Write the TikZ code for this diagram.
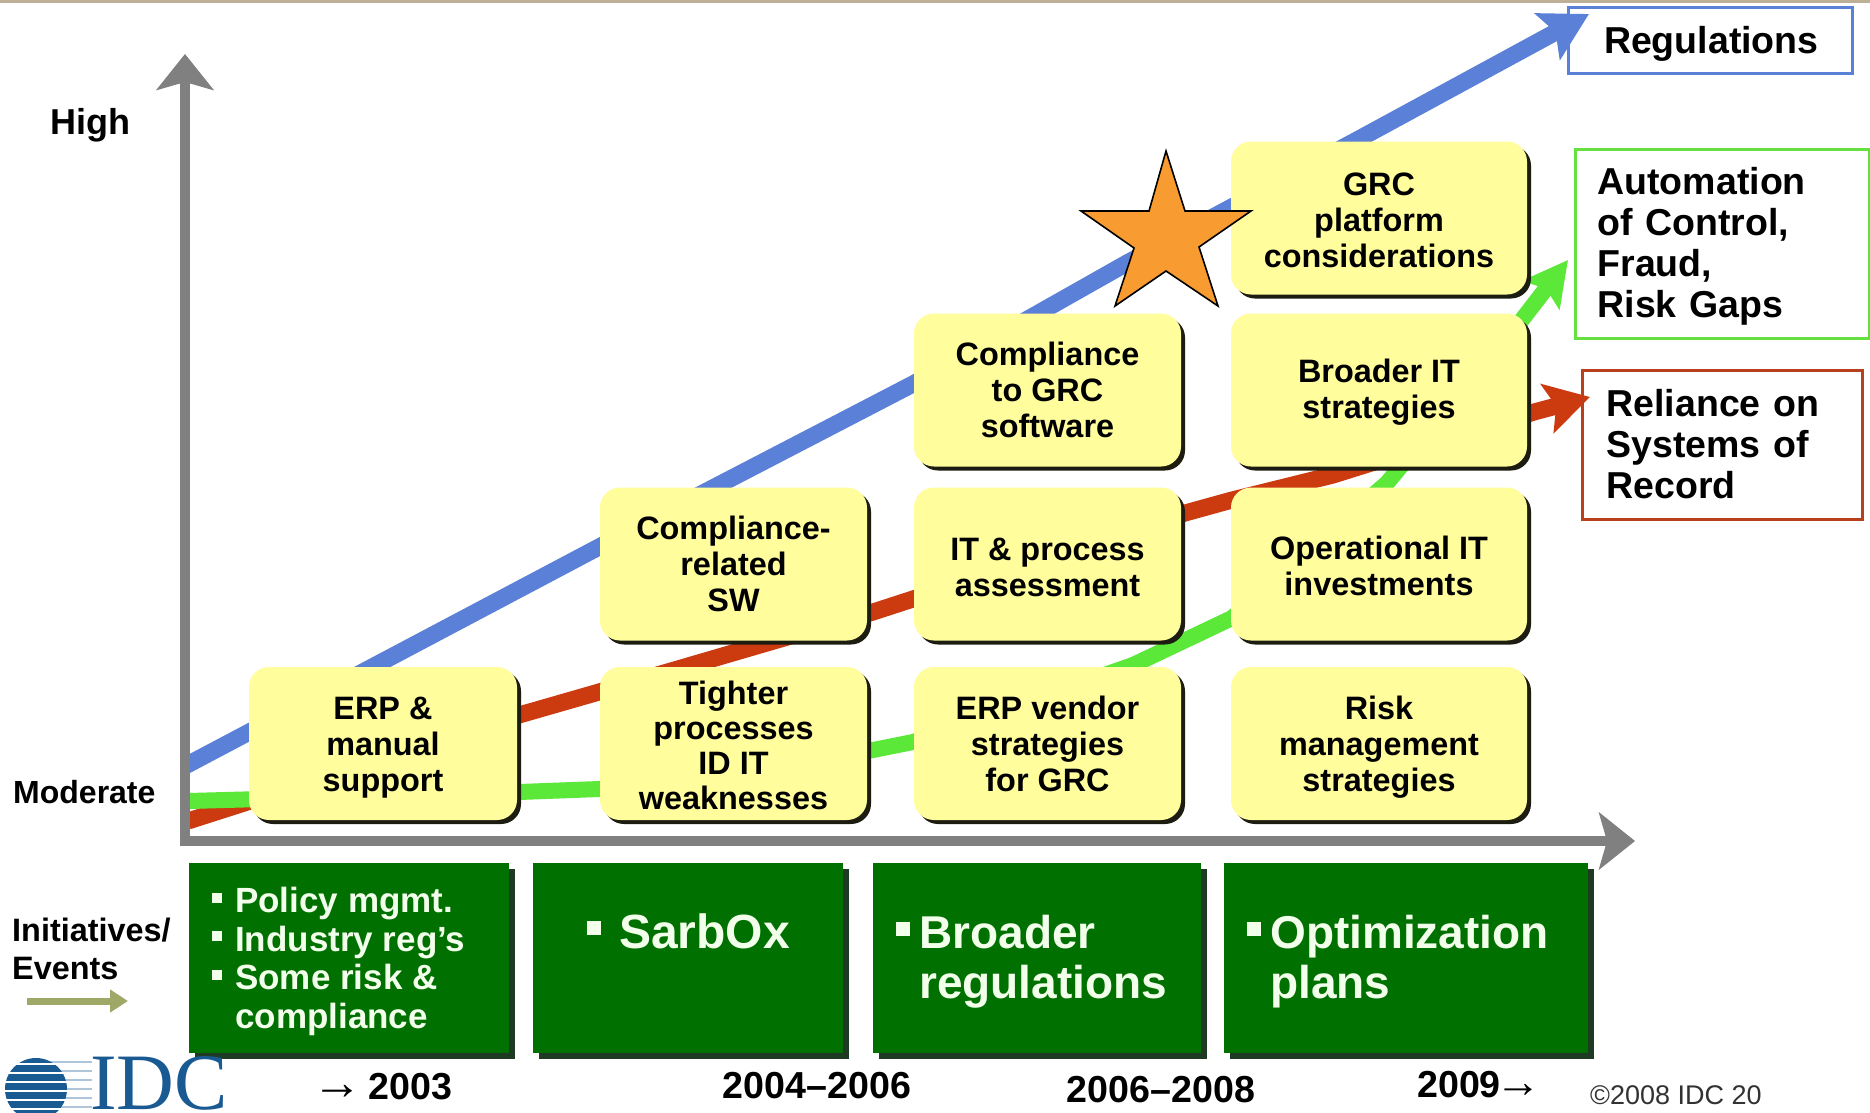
\documentclass[tikz,border=0pt]{standalone}
\usepackage{fontspec}
\setmainfont{Liberation Sans}
\newfontfamily\serifidc{Liberation Serif}
\usetikzlibrary{arrows.meta,shadows}
\pgfdeclarelayer{bg}
\pgfsetlayers{bg,main}
\definecolor{yel}{HTML}{FFFD9C}
\definecolor{yelsh}{HTML}{1C1C10}
\definecolor{grn}{HTML}{007000}
\definecolor{grnsh}{HTML}{1F3A22}
\definecolor{axisgray}{HTML}{808080}
\definecolor{tblue}{HTML}{5B80D8}
\definecolor{tgreen}{HTML}{5CE838}
\definecolor{tred}{HTML}{CC3A10}
\definecolor{lred}{HTML}{B8401C}
\definecolor{lgreen}{HTML}{66E040}
\definecolor{wtxt}{HTML}{F2FFEA}
\definecolor{idcblue}{HTML}{1A5A92}
\definecolor{olive}{HTML}{A0A868}
\definecolor{starc}{HTML}{F89B30}
\newcommand{\fs}[2]{\fontsize{#1}{#2}\selectfont\bfseries}
\newcommand{\bul}[2]{\makebox[#2pt][l]{\raisebox{0.28em}{\rule{#1pt}{#1pt}}}}
\newcommand{\dn}[1]{\rule{0pt}{#1pt}}
\tikzset{
  x=1pt,y=-1pt,
  yellowbox/.style={rectangle,rounded corners=20pt,fill=yel,minimum height=153pt,inner sep=0pt,outer sep=0pt,
    align=center,font=\fs{32.4}{36},text=black,
    copy shadow={shadow xshift=4pt,shadow yshift=-4pt,fill=yelsh,draw=none}},
  col/.style={minimum width=#1pt},
  greenbox/.style={rectangle,fill=grn,minimum height=190pt,inner sep=0pt,outer sep=0pt,
    copy shadow={shadow xshift=6pt,shadow yshift=-6pt,fill=grnsh,draw=none}},
  greentext/.style={anchor=west,align=left,text=wtxt,inner sep=0pt,font=\fs{46}{50}},
  trendbox/.style={rectangle,line width=3pt,inner ysep=0pt,align=left,font=\fs{37.5}{41},text=black},
  plain/.style={anchor=west,inner sep=0pt,align=left,text=black},
  trend/.style={line width=#1,line join=round},
  axisline/.style={draw=axisgray,line width=10pt,
    -{Stealth[length=36pt,width=57pt,inset=8pt]}},
}
\begin{document}
\begin{tikzpicture}
\useasboundingbox (0,0) rectangle (1870,1112);
\begin{pgfonlayer}{bg}
\fill[white] (0,0) rectangle (1870,1112);
\fill[fill={rgb,255:red,190;green,176;blue,150}] (0,0) rectangle (1870,3);
\end{pgfonlayer}

% yellow boxes
\node[yellowbox,col=268] (erp) at (383,743.5) {\dn{30}ERP \&\\manual\\support};
\node[yellowbox,col=267,font=\fs{32.4}{35}] (tighter) at (733.5,743.5) {\dn{28}Tighter\\processes\\ID IT\\weaknesses};
\node[yellowbox,col=267] (vendor) at (1047.5,743.5) {ERP vendor\\strategies\\for GRC};
\node[yellowbox,col=296] (risk) at (1379,743.5) {\dn{30}Risk\\management\\strategies};
\node[yellowbox,col=267] (compsw) at (733.5,564) {Compliance-\\related\\SW};
\node[yellowbox,col=267] (itproc) at (1047.5,564) {\dn{30}IT \& process\\assessment};
\node[yellowbox,col=296] (opit) at (1379,564) {\dn{28}Operational IT\\investments};
\node[yellowbox,col=267] (compgrc) at (1047.5,390) {Compliance\\to GRC\\software};
\node[yellowbox,col=296] (broadit) at (1379,390) {\dn{28}Broader IT\\strategies};
\node[yellowbox,col=296] (grc) at (1379,218) {\dn{28}GRC\\platform\\considerations};

% trend labels
\node[trendbox,draw=tblue,text width=212pt,inner xsep=36pt,minimum height=66pt] (reg) at (1710,40) {\dn{34}Regulations};
\node[trendbox,draw=lgreen,text width=250pt,inner xsep=22pt,minimum height=189pt] (auto) at (1722.5,243.5) {\dn{32}Automation\\of Control,\\Fraud,\\Risk Gaps};
\node[trendbox,draw=lred,text width=232pt,inner xsep=24pt,minimum height=149pt] (rel) at (1722.5,444.5) {Reliance on\\Systems of\\Record};

% coordinates of the trends
\coordinate (bstart) at (185,766);
\coordinate (btip) at (1589,14);
\coordinate (gstart) at (188,801);
\coordinate (gtip) at (1568,260);
\coordinate (rstart) at (188,821);
\coordinate (rtip) at (1590,397);

\begin{pgfonlayer}{bg}
\draw[trend=17pt,draw=tblue,-{Stealth[length=47pt,width=52pt,inset=9pt]}]
  (bstart) -- (599,547) -- (913,384) -- (1127,263) -- (1357,140) -- (btip);
\draw[trend=17pt,draw=tred,-{Stealth[length=44pt,width=50pt,inset=9pt]}]
  (rstart) -- (519,715) -- (599,692) -- (873,612) -- (913,599) -- (1185,513) -- (1232,500) -- (1333,475) -- (1534,412) -- (rtip);
\draw[trend=16pt,draw=tgreen,-{Stealth[length=44pt,width=46pt,inset=8pt]}]
  (gstart) -- (519,792) -- (599,789) -- (873,750) -- (913,742) -- (1133,665) -- (1232,618) -- (1387,483) -- (1521,321) -- (gtip);
\end{pgfonlayer}

% star
\draw[fill=starc,draw=black,line width=1.6pt,line join=miter] (1166,151) -- (1185,211) -- (1251,211) -- (1199,247) -- (1218,306)
  -- (1166,271) -- (1115,306) -- (1134,248) -- (1081,211) -- (1149,211) -- cycle;

% axes
\coordinate (origin) at (185,841);
\coordinate (ytip) at (185,54);
\coordinate (xtip) at (1635,841);
\draw[axisline] ([yshift=-5pt]origin) -- (ytip);
\draw[axisline] ([xshift=-5pt]origin) -- (xtip);

% axis texts
\node[plain,font=\fs{36}{40}] (high) at (50,125) {High};
\node[plain,font=\fs{32}{34}] (mod) at (13,792) {Moderate};
\node[plain,font=\fs{32.4}{38}] (init) at (12,949) {Initiatives/\\Events};
\coordinate (olivea) at (27,1001);
\coordinate (oliveb) at (128,1001);
\draw[draw=olive,line width=7pt,-{Stealth[length=18pt,width=22pt,inset=0pt]}] (olivea) -- (oliveb);

% green boxes
\node[greenbox,minimum width=320pt] (g1) at (349,958) {};
\node[greenbox,minimum width=310pt] (g2) at (688,958) {};
\node[greenbox,minimum width=328pt] (g3) at (1037,958) {};
\node[greenbox,minimum width=364pt] (g4) at (1406,958) {};

\node[greentext,font=\fs{35}{38.7}] (t1) at (212,961.5) {\bul{10}{23}Policy mgmt.\\\bul{10}{23}Industry reg’s\\\bul{10}{23}Some risk \&\\\hspace*{23pt}compliance};
\node[greentext,font=\fs{48}{50}] (t2) at (587,931) {\bul{14}{32}SarbOx};
\node[greentext,font=\fs{46}{50}] (t3) at (896,962) {\bul{14}{23}Broader\\\hspace*{23pt}regulations};
\node[greentext,font=\fs{46}{50}] (t4) at (1247,962) {\bul{14}{23}Optimization\\\hspace*{23pt}plans};

% years
\node[plain,font=\fs{37.6}{40}] (y1) at (312,1087) {{\mdseries\fontsize{50}{50}\selectfont →}\kern-4pt\ 2003};
\node[inner sep=0pt,font=\fs{37.6}{40}] (y2) at (817,1086) {2004–2006};
\node[inner sep=0pt,font=\fs{37.6}{40}] (y3) at (1161,1090) {2006–2008};
\node[plain,font=\fs{37.6}{40}] (y4) at (1417,1085) {2009\kern-5pt{\fontsize{46}{46}\selectfont →}};
\node[plain,font=\fontsize{27}{30}\selectfont,text={rgb,255:red,50;green,50;blue,50}] (copy) at (1590,1095) {©2008 IDC 20};

% logo
\node[anchor=base west,inner sep=0pt,font=\serifidc\fontsize{80}{80}\selectfont,text=idcblue] (idc) at (90,1109) {IDC};
\foreach \yy in {1062,1071,1080,1089,1098,1107}{
  \draw[draw=idcblue!35,line width=2pt] (40,\yy) -- (92,\yy);
}
\begin{scope}
\clip (36,1089) circle (31);
\foreach \yy in {1056,1065,1074,1083,1092,1101,1110}{
  \fill[idcblue] (0,\yy) rectangle (80,\yy+6.5);
}
\end{scope}
\end{tikzpicture}
\end{document}
